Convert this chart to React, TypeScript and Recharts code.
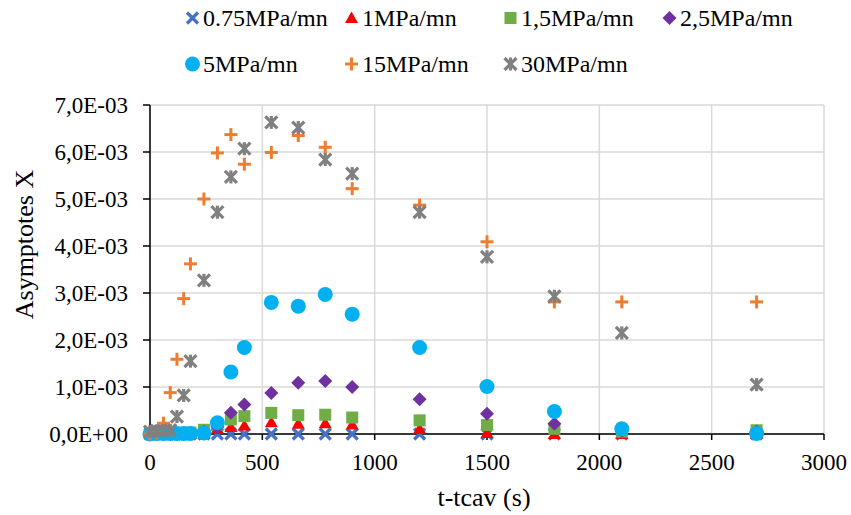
import { CartesianGrid, Label, Legend, Scatter, ScatterChart, XAxis, YAxis } from 'recharts';

// time since cavitation (s)
const times = [0, 30, 60, 90, 120, 150, 180, 240, 300, 360, 420, 540, 660, 780, 900, 1200, 1500, 1800, 2100, 2700];

// asymptote values, in units of 1E-03
const rate075 = [0, 0, 0, 0, 0, 0, 0, 0, 0, 0, 0, 0, 0, 0, 0, 0, 0, 0, 0, 0];
const rate1 = [0, 0, 0, 0, 0.005, 0.01, 0.01, 0.03, 0.11, 0.15, 0.18, 0.25, 0.22, 0.23, 0.2, 0.11, 0.02, 0, 0, 0];
const rate15 = [0, 0, 0.005, 0.01, 0.01, 0.02, 0.03, 0.09, 0.2, 0.31, 0.38, 0.45, 0.4, 0.41, 0.35, 0.29, 0.19, 0.11, 0.05, 0.08];
const rate25 = [0, 0, 0, 0.01, 0.01, 0.02, 0.02, 0.05, 0.15, 0.45, 0.63, 0.87, 1.09, 1.13, 1.0, 0.74, 0.43, 0.22, 0.08, 0.05];
const rate5 = [0, 0.01, 0.01, 0.01, 0.01, 0.01, 0.01, 0.02, 0.24, 1.32, 1.84, 2.8, 2.72, 2.97, 2.55, 1.84, 1.01, 0.48, 0.11, 0.01];
const rate15b = [0, 0.02, 0.23, 0.88, 1.59, 2.88, 3.62, 5.0, 5.98, 6.37, 5.74, 5.99, 6.35, 6.1, 5.22, 4.87, 4.09, 2.81, 2.81, 2.81];
const rate30 = [0.05, 0.07, 0.07, 0.08, 0.37, 0.82, 1.55, 3.27, 4.72, 5.47, 6.07, 6.63, 6.52, 5.84, 5.54, 4.72, 3.77, 2.93, 2.15, 1.05];

const seriesNames = ['0.75MPa/mn', '1MPa/mn', '1,5MPa/mn', '2,5MPa/mn', '5MPa/mn', '15MPa/mn', '30MPa/mn'];
const seriesColors = ['#4472C4', '#FF0000', '#70AD47', '#7030A0', '#00B0F0', '#ED7D31', '#808080'];
const seriesValues = [rate075, rate1, rate15, rate25, rate5, rate15b, rate30];
const markerKinds = ['x', 'triangle', 'square', 'diamond', 'circle', 'plus', 'star'];

const xTicks = [0, 500, 1000, 1500, 2000, 2500, 3000];
const yTicks = [0, 1, 2, 3, 4, 5, 6, 7];

const FONT = '"Liberation Serif", "Times New Roman", serif';

function formatSci(v: number) {
  if (v === 0) return '0,0E+00';
  const [m, e] = (v * 1e-3).toExponential(1).split('e');
  const exp = parseInt(e, 10);
  return m.replace('.', ',') + 'E' + (exp < 0 ? '-' : '+') + String(Math.abs(exp)).padStart(2, '0');
}

function Marker({ kind, color, cx, cy }: { kind: string; color: string; cx: number; cy: number }) {
  switch (kind) {
    case 'x':
      return (
        <g stroke={color} strokeWidth={3.2}>
          <line x1={cx - 5.5} y1={cy - 5.5} x2={cx + 5.5} y2={cy + 5.5} />
          <line x1={cx - 5.5} y1={cy + 5.5} x2={cx + 5.5} y2={cy - 5.5} />
        </g>
      );
    case 'triangle':
      return <polygon points={`${cx},${cy - 6.5} ${cx + 6.5},${cy + 5} ${cx - 6.5},${cy + 5}`} fill={color} />;
    case 'square':
      return <rect x={cx - 6} y={cy - 6} width={12} height={12} fill={color} />;
    case 'diamond':
      return <polygon points={`${cx},${cy - 7} ${cx + 7},${cy} ${cx},${cy + 7} ${cx - 7},${cy}`} fill={color} />;
    case 'circle':
      return <circle cx={cx} cy={cy} r={7.5} fill={color} />;
    case 'plus':
      return (
        <g stroke={color} strokeWidth={3}>
          <line x1={cx - 6.5} y1={cy} x2={cx + 6.5} y2={cy} />
          <line x1={cx} y1={cy - 6.5} x2={cx} y2={cy + 6.5} />
        </g>
      );
    default:
      return (
        <g stroke={color} strokeWidth={3.2}>
          <line x1={cx - 6} y1={cy - 6} x2={cx + 6} y2={cy + 6} />
          <line x1={cx - 6} y1={cy + 6} x2={cx + 6} y2={cy - 6} />
          <line x1={cx} y1={cy - 6.5} x2={cx} y2={cy + 6.5} />
        </g>
      );
  }
}

function ChartLegend() {
  return (
    <div style={{ position: 'relative', width: 851, height: 90, fontFamily: FONT, fontSize: 24, color: '#000' }}>
      {seriesNames.map((name, i) => (
        <div
          key={name}
          style={{
            position: 'absolute',
            left: 185 + (i % 4) * 159,
            top: Math.floor(i / 4) * 46 - 4,
            height: 44,
            display: 'flex',
            alignItems: 'center',
            whiteSpace: 'nowrap',
          }}
        >
          <svg width={15} height={16} style={{ marginRight: 3 }}>
            <Marker kind={markerKinds[i]} color={seriesColors[i]} cx={7.5} cy={8} />
          </svg>
          <span>{name}</span>
        </div>
      ))}
    </div>
  );
}

function YTitle({ viewBox }: { viewBox?: { x: number; y: number; width: number; height: number } }) {
  if (!viewBox) return null;
  const x = 33;
  const y = viewBox.y + viewBox.height / 2 - 25;
  return (
    <text x={x} y={y} transform={`rotate(-90 ${x} ${y})`} textAnchor="middle" fontFamily={FONT} fontSize={26} fill="#000">
      Asymptotes X
    </text>
  );
}

function XTitle({ viewBox }: { viewBox?: { x: number; y: number; width: number; height: number } }) {
  if (!viewBox) return null;
  return (
    <text x={viewBox.x + viewBox.width / 2 - 3} y={506} textAnchor="middle" fontFamily={FONT} fontSize={26} fill="#000">
      t-tcav (s)
    </text>
  );
}

export default function App() {
  return (
    <div style={{ position: 'absolute', left: 0, top: 0, width: 851, height: 515, background: '#fff' }}>
      <ScatterChart width={851} height={515} margin={{ top: 105, right: 27, bottom: 0, left: 0 }}>
        <CartesianGrid stroke="#d9d9d9" strokeWidth={1.5} />
        <XAxis
          type="number"
          dataKey="x"
          domain={[0, 3000]}
          ticks={xTicks}
          height={81}
          stroke="#000"
          strokeWidth={1.5}
          tickSize={6}
          tickMargin={14}
          tick={{ fill: '#000', fontFamily: FONT, fontSize: 23 }}
          interval={0}
        >
          <Label content={<XTitle />} />
        </XAxis>
        <YAxis
          type="number"
          dataKey="y"
          domain={[0, 7]}
          ticks={yTicks}
          width={150}
          stroke="#000"
          strokeWidth={1.5}
          tickSize={7}
          tickMargin={15}
          tickFormatter={formatSci}
          tick={{ fill: '#000', fontFamily: FONT, fontSize: 23 }}
          interval={0}
        >
          <Label content={<YTitle />} />
        </YAxis>
        <Legend
          verticalAlign="middle"
          layout="horizontal"
          wrapperStyle={{ top: 0, left: 0, width: 851, height: 90 }}
          content={<ChartLegend />}
        />
        {seriesNames.map((name, i) => (
          <Scatter
            key={name}
            name={name}
            data={times.map((t, j) => ({ x: t, y: seriesValues[i][j] }))}
            fill={seriesColors[i]}
            isAnimationActive={false}
            shape={(p: any) => <Marker kind={markerKinds[i]} color={seriesColors[i]} cx={p.cx} cy={p.cy} />}
          />
        ))}
      </ScatterChart>
    </div>
  );
}
